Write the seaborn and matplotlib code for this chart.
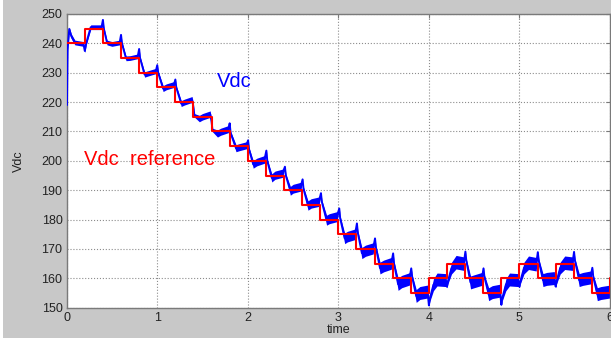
import numpy as np
import pandas as pd
import matplotlib
matplotlib.use("Agg")
import matplotlib.pyplot as plt
from matplotlib.patches import Rectangle
import seaborn as sns

# ---------------- data ----------------
ref_t = [0.0, 0.2, 0.4, 0.6, 0.8, 1.0, 1.2, 1.4, 1.6, 1.8, 2.0, 2.2, 2.4, 2.6, 2.8,
         3.0, 3.2, 3.4, 3.6, 3.8, 4.0, 4.2, 4.4, 4.6, 4.8, 5.0, 5.2, 5.4, 5.6, 5.8, 6.0]
ref_v = [240, 245, 240, 235, 230, 225, 220, 215, 210, 205, 200, 195, 190, 185, 180,
         175, 170, 165, 160, 155, 160, 165, 160, 155, 160, 165, 160, 165, 160, 155, 160]

vdc_t = [0.003, 0.010, 0.028, 0.050, 0.090, 0.185, 0.200, 0.215, 0.265, 0.385,
         0.400, 0.410, 0.445, 0.500, 0.585, 0.600, 0.610, 0.655, 0.700, 0.785,
         0.800, 0.810, 0.860, 0.900, 0.985,
         1.000, 1.010, 1.065, 1.100, 1.185,
         1.200, 1.210, 1.265, 1.300, 1.385,
         1.400, 1.410, 1.465, 1.500, 1.585,
         1.600, 1.610, 1.665, 1.700, 1.785,
         1.800, 1.810, 1.870, 1.900, 1.985,
         2.003, 2.013, 2.060, 2.100, 2.185,
         2.205, 2.215, 2.265, 2.300, 2.385,
         2.410, 2.420, 2.470, 2.500, 2.585,
         2.605, 2.615, 2.665, 2.700, 2.785,
         2.808, 2.818, 2.870, 2.900, 2.985,
         3.010, 3.020, 3.070, 3.100, 3.185,
         3.205, 3.215, 3.260, 3.300, 3.385,
         3.405, 3.415, 3.460, 3.500, 3.585,
         3.605, 3.615, 3.660, 3.700, 3.785,
         3.805, 3.815, 3.860, 3.900, 3.985,
         4.000, 4.010, 4.050, 4.090, 4.185,
         4.200, 4.210, 4.250, 4.300, 4.385,
         4.403, 4.413, 4.460, 4.500, 4.585,
         4.603, 4.613, 4.660, 4.700, 4.785,
         4.800, 4.810, 4.850, 4.890, 4.985,
         5.000, 5.010, 5.050, 5.100, 5.185,
         5.203, 5.213, 5.260, 5.300, 5.385,
         5.400, 5.410, 5.450, 5.500, 5.585,
         5.603, 5.613, 5.660, 5.700, 5.785,
         5.805, 5.815, 5.860, 5.900, 6.000]
vdc_v = [219.0, 238.0, 244.9, 242.5, 240.3, 239.8, 237.4, 240.0, 245.5, 245.5,
         248.0, 245.0, 240.3, 239.8, 240.3, 242.9, 240.0, 234.9, 235.0, 235.6,
         238.1, 235.0, 229.4, 229.8, 230.6,
         232.6, 230.0, 224.6, 225.2, 226.0,
         227.7, 225.0, 219.5, 220.0, 220.9,
         218.2, 215.5, 214.4, 215.0, 215.9,
         213.3, 210.5, 209.3, 209.9, 210.8,
         212.8, 209.5, 204.3, 204.6, 205.3,
         207.0, 204.0, 198.8, 199.6, 200.5,
         203.5, 200.0, 194.2, 195.1, 195.8,
         198.0, 195.0, 189.8, 190.5, 191.2,
         193.7, 190.5, 184.8, 185.5, 186.1,
         189.0, 186.0, 179.8, 180.3, 181.0,
         183.8, 180.5, 173.6, 174.2, 175.0,
         178.7, 175.5, 168.6, 169.4, 170.2,
         173.6, 170.5, 163.5, 164.2, 165.1,
         168.5, 165.0, 158.0, 158.9, 159.8,
         163.4, 160.5, 154.0, 155.0, 155.5,
         150.8, 153.0, 157.8, 159.6, 159.4,
         157.2, 159.0, 163.5, 165.5, 165.0,
         169.1, 166.0, 158.6, 159.0, 159.8,
         163.4, 160.5, 154.6, 155.3, 155.8,
         151.0, 153.2, 157.8, 159.6, 159.4,
         157.2, 159.0, 163.5, 165.3, 164.8,
         168.9, 166.0, 159.4, 159.8, 160.1,
         157.2, 159.0, 163.5, 165.3, 165.0,
         169.0, 166.0, 159.4, 159.8, 160.3,
         163.6, 160.5, 154.6, 155.0, 155.5]
# half thickness of the ripple band around the Vdc trace
vdc_ripple = [0.3, 0.6, 0.7, 0.8, 0.8, 0.8, 0.5, 0.6, 0.8, 0.8,
              0.3, 0.6, 0.8, 0.8, 0.8, 0.3, 0.6, 0.8, 0.8, 0.8,
              0.3, 0.6, 0.9, 0.9, 0.9,
              0.3, 0.6, 1.0, 1.0, 1.0,
              0.3, 0.6, 1.0, 1.0, 1.0,
              0.3, 0.6, 1.1, 1.1, 1.1,
              0.3, 0.6, 1.2, 1.2, 1.2,
              0.3, 0.6, 1.2, 1.2, 1.2,
              0.3, 0.6, 1.3, 1.3, 1.3,
              0.3, 0.6, 1.4, 1.4, 1.4,
              0.3, 0.6, 1.5, 1.5, 1.5,
              0.3, 0.6, 1.6, 1.6, 1.6,
              0.3, 0.6, 1.7, 1.7, 1.7,
              0.3, 0.7, 1.8, 1.8, 1.8,
              0.3, 0.7, 1.9, 1.9, 1.9,
              0.3, 0.7, 2.0, 2.0, 2.0,
              0.3, 0.7, 2.1, 2.1, 2.1,
              0.3, 0.7, 2.2, 2.2, 2.2,
              0.4, 0.9, 2.0, 2.2, 2.2,
              0.4, 0.9, 2.0, 2.3, 2.3,
              0.3, 0.7, 2.2, 2.2, 2.2,
              0.3, 0.7, 2.2, 2.2, 2.2,
              0.4, 0.9, 2.0, 2.2, 2.2,
              0.4, 0.9, 2.0, 2.3, 2.3,
              0.3, 0.7, 2.2, 2.2, 2.2,
              0.4, 0.9, 2.0, 2.3, 2.3,
              0.3, 0.7, 2.2, 2.2, 2.2,
              0.3, 0.7, 2.2, 2.2, 2.2]

x_ticks = [0, 1, 2, 3, 4, 5, 6]
y_ticks = [150, 160, 170, 180, 190, 200, 210, 220, 230, 240, 250]

# ---------------- style ----------------
sns.set_style("white")
plt.rcParams['font.family'] = ['Liberation Sans', 'DejaVu Sans']

W, H = 611, 344
fig = plt.figure(figsize=(W / 100, H / 100), dpi=100, facecolor='white')
fig.patches.append(Rectangle((3 / W, 6 / H), 1, 1, transform=fig.transFigure,
                             facecolor='#c8c8c8', edgecolor='none', zorder=-10))
ax = fig.add_axes([66.7 / W, (H - 307.7) / H, (610 - 66.7) / W, (307.7 - 14) / H])
ax.set_facecolor('white')

vdc = pd.DataFrame({'t': vdc_t, 'v': vdc_v, 'r': vdc_ripple})
ref = pd.DataFrame({'t': ref_t, 'v': ref_v})

ax.fill_between(vdc['t'], vdc['v'] - vdc['r'], vdc['v'] + vdc['r'],
                color='#0000ff', linewidth=0, zorder=2)
sns.lineplot(data=vdc, x='t', y='v', ax=ax, color='#0000ff', linewidth=1.4,
             sort=False, estimator=None, zorder=3)
sns.lineplot(data=ref, x='t', y='v', ax=ax, color='#ff0000', linewidth=1.5,
             drawstyle='steps-post', estimator=None, zorder=4)

ax.set_xlim(0, 6)
ax.set_ylim(150, 250)
ax.set_xticks(x_ticks)
ax.set_yticks(y_ticks)
ax.grid(True, linestyle=':', color='#8c8c8c', linewidth=0.8)
ax.set_axisbelow(True)
for s in ax.spines.values():
    s.set_visible(True)
    s.set_color('#7a7a7a')
    s.set_linewidth(1.0)
ax.tick_params(direction='in', length=3, width=0.8, color='#7a7a7a',
               labelsize=9, labelcolor='#222222', top=True, right=True, pad=3)
ax.set_xlabel('time', fontsize=9, color='#222222', labelpad=0)
ax.set_ylabel('Vdc', fontsize=9, color='#222222', labelpad=12)

ax.text(1.657, 225.0, 'Vdc', color='#0000ff', fontsize=14.5, ha='left', va='baseline')
ax.text(0.191, 198.6, 'Vdc  reference', color='#ff0000', fontsize=14.5,
        ha='left', va='baseline')

fig.savefig('out.png', dpi=100, facecolor=fig.get_facecolor())
